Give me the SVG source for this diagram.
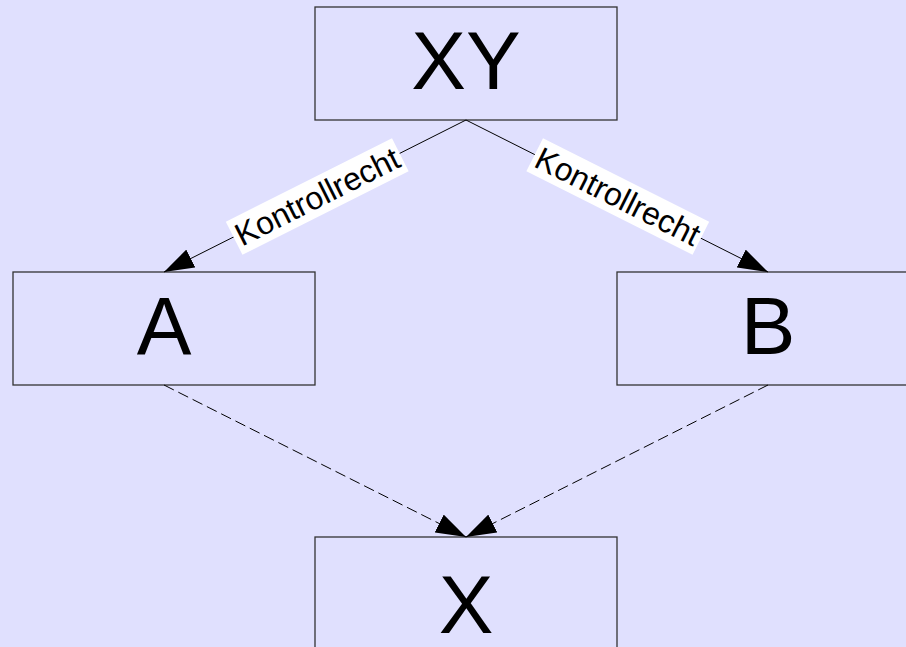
<svg xmlns="http://www.w3.org/2000/svg" width="906" height="647" viewBox="0 0 906 647">
  <style>
    .box { fill: #e0e0fe; stroke: #333; stroke-width: 1.3; }
    .big { font-family: "Liberation Sans", Arial, sans-serif; font-size: 82px; fill: #000; text-anchor: middle; }
    .edge { stroke: #000; stroke-width: 1; fill: none; }
    .dashed { stroke-dasharray: 11 5; }
    .lbl-bg { fill: #fff; }
    .lbl { font-family: "Liberation Sans", Arial, sans-serif; font-size: 32px; fill: #000; text-anchor: middle; }
  </style>
  <defs>
    <marker id="head" markerUnits="userSpaceOnUse" markerWidth="30" markerHeight="20" refX="30" refY="10" orient="auto" viewBox="0 0 30 20">
      <path d="M0,0 L30,10 L0,20 z" fill="#000"/>
    </marker>
  </defs>

  <rect width="906" height="647" fill="#e0e0fe"/>

  <g id="node-xy">
    <rect class="box" x="315" y="7" width="302" height="113"/>
    <text class="big" x="466" y="89">XY</text>
  </g>
  <g id="node-a">
    <rect class="box" x="13" y="272" width="302" height="113"/>
    <text class="big" x="164" y="354">A</text>
  </g>
  <g id="node-b">
    <rect class="box" x="617" y="272" width="302" height="113"/>
    <text class="big" x="768" y="354">B</text>
  </g>
  <g id="node-x">
    <rect class="box" x="315" y="537" width="302" height="130"/>
    <text class="big" x="466" y="633">X</text>
  </g>

  <g id="connectors">
    <line class="edge" x1="466" y1="120" x2="164" y2="272" marker-end="url(#head)"/>
    <line class="edge" x1="466" y1="120" x2="768" y2="272" marker-end="url(#head)"/>
    <line class="edge dashed" x1="164" y1="385" x2="466" y2="537" marker-end="url(#head)"/>
    <line class="edge dashed" x1="768" y1="385" x2="466" y2="537" marker-end="url(#head)"/>

    <g transform="translate(317,196) rotate(-26.7)">
      <rect class="lbl-bg" x="-93" y="-18" width="186" height="37"/>
      <text class="lbl" x="0" y="11.5">Kontrollrecht</text>
    </g>
    <g transform="translate(618,196) rotate(26.7)">
      <rect class="lbl-bg" x="-93" y="-18" width="186" height="37"/>
      <text class="lbl" x="0" y="11.5">Kontrollrecht</text>
    </g>
  </g>
</svg>
